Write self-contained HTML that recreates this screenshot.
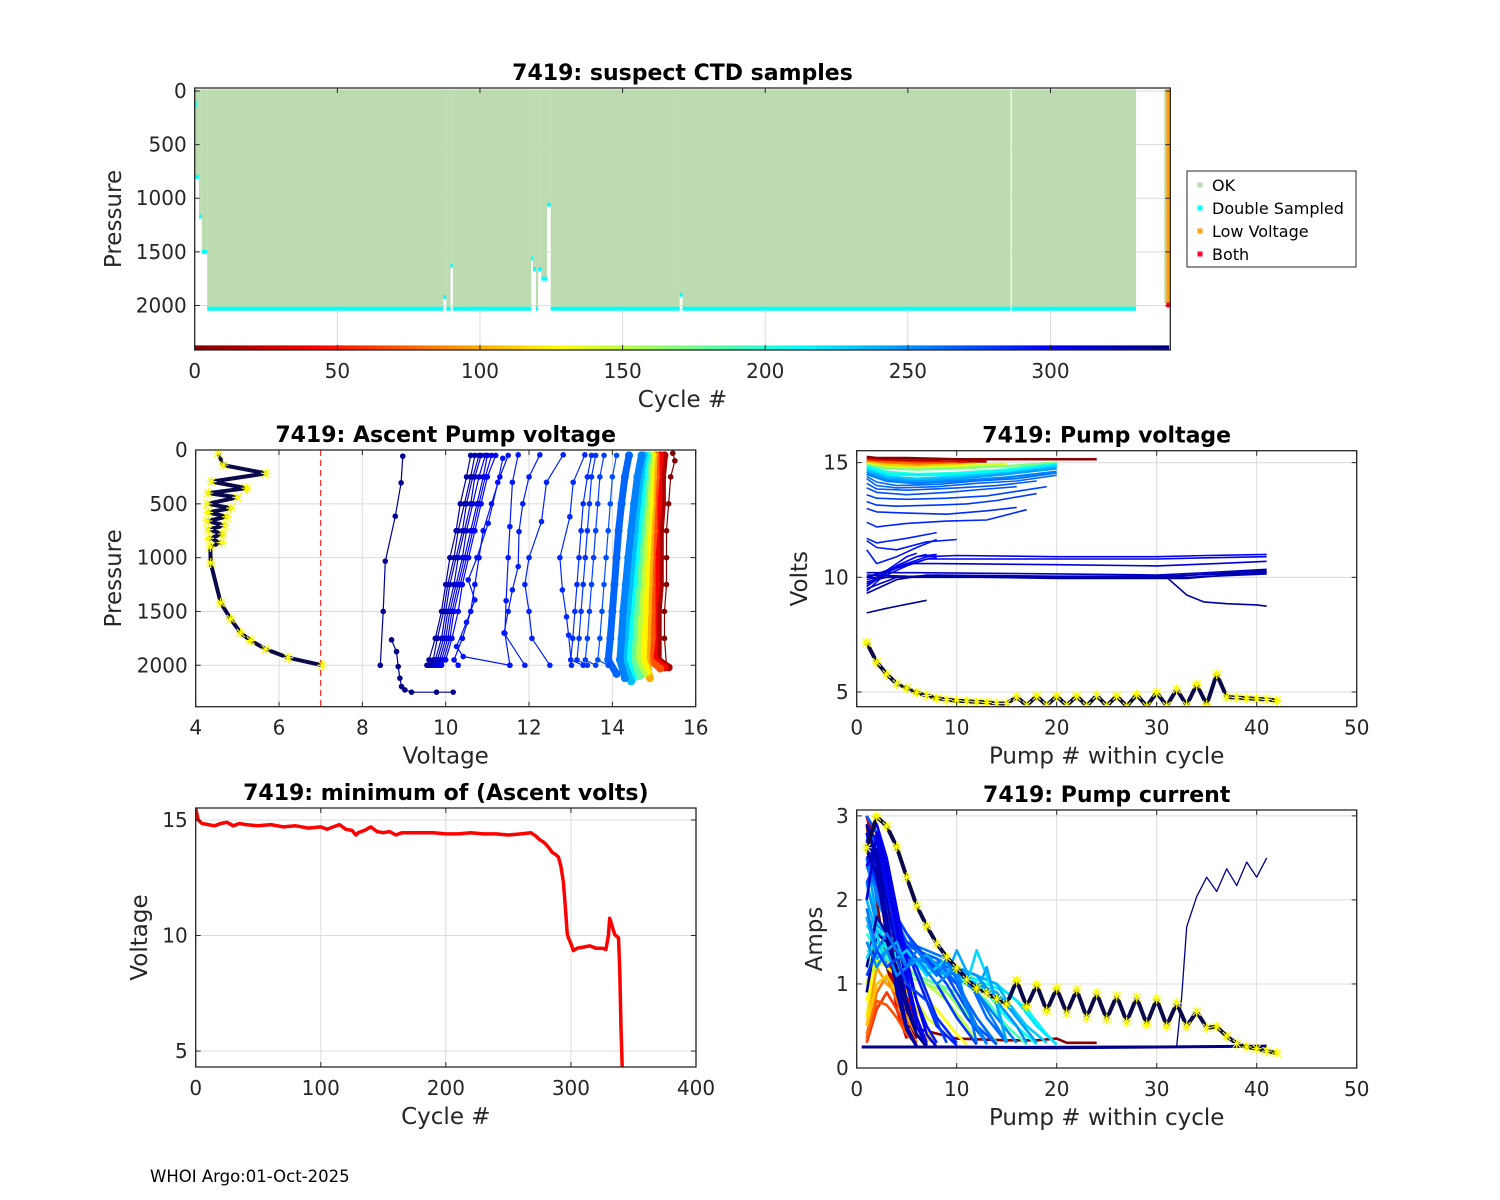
<!DOCTYPE html>
<html><head><meta charset="utf-8">
<style>
body{margin:0;background:#fff}
svg{display:block;font-family:"DejaVu Sans","Liberation Sans",sans-serif}
</style></head>
<body>
<svg id="fig" width="1500" height="1200" viewBox="0 0 1500 1200">
<rect width="1500" height="1200" fill="#fff"/>
<text x="150" y="1182" font-size="16.5" fill="#000">WHOI Argo:01-Oct-2025</text>
</svg>
<script>
// ---------- DATA: top panel (suspect CTD samples) ----------
const segStart=[-0.5,1.5,2.5,4.4,87.2,88.2,89.7,90.5,118,118.6,119.6,120.4,121.5,123.5,124.8,170,171,286.4];
const segEnd  =[1.5,2.5,4.4,87.2,88.2,89.7,90.5,118,118.6,119.6,120.4,121.5,123.5,124.8,170,171,286,330];
const segMaxP =[800,1170,1500,2030,1920,2030,1630,2030,1560,1660,2030,1660,1750,1060,2030,1900,2030,2030];
const lastCycles=[340.4,341.3];
const lastMaxP=[1980,2000];

// ---------- DATA: minimum ascent volts ----------
const mvCycle=[0,2,5,10,15,20,25,30,35,40,50,60,70,80,90,100,105,110,115,120,125,128,130,135,140,145,150,155,160,165,170,180,190,200,210,220,230,240,250,260,268,272,275,278,280,283,285,288,290,292,294,295,296,297,298,300,302,305,310,315,320,325,328,330,331,333,335,338,339,340,341];
const mvVolt =[15.5,15.0,14.85,14.8,14.75,14.85,14.9,14.75,14.85,14.8,14.75,14.8,14.7,14.75,14.65,14.7,14.6,14.7,14.8,14.6,14.55,14.35,14.45,14.55,14.7,14.5,14.45,14.5,14.35,14.45,14.45,14.45,14.45,14.4,14.4,14.45,14.4,14.4,14.35,14.4,14.45,14.3,14.15,14.05,13.95,13.75,13.6,13.5,13.4,13.0,12.3,11.6,10.9,10.1,9.9,9.65,9.35,9.45,9.5,9.55,9.45,9.45,9.4,10.0,10.75,10.4,10.05,9.9,8.6,6.0,4.3];

// ---------- DATA: ascent pump voltage profiles (pressure/voltage) ----------
const apCycle=[1,15,40,70,100,125,150,180,210,235,255,265,272,277,281,283,285,287,289,290,291,293,296,300,305,310,315,320,325,329,333,338];
const apP=[
 [30,100,250,500,750,1000,1250,1500,1750,2000],
 [50,250,500,750,1000,1250,1500,1750,1950,2020],
 [50,250,500,750,1000,1250,1500,1750,1950,2020],
 [50,250,500,750,1000,1250,1500,1750,1950,2030],
 [50,250,500,750,1000,1250,1500,1750,1950,2120],
 [50,250,500,750,1000,1250,1500,1750,1950,2060],
 [50,250,500,750,1000,1250,1500,1750,1950,2080],
 [50,250,500,750,1000,1250,1500,1750,1950,2100],
 [50,250,500,750,1000,1250,1500,1750,1950,2120],
 [50,250,500,750,1000,1250,1500,1750,1950,2150],
 [50,250,500,750,1000,1250,1500,1750,1950,2120],
 [50,250,500,750,1000,1250,1500,1750,1950,2080],
 [50,250,500,750,1000,1250,1500,1750,1950,2000],
 [50,250,500,750,1000,1250,1500,1750,1950,2000],
 [50,250,500,750,1000,1250,1500,1750,1950,2000],
 [50,250,500,750,1000,1250,1500,1750,1950,2000],
 [45,300,620,1000,1300,1550,1720,2000],
 [45,300,665,1000,1250,1500,1750,2000],
 [45,250,500,758,1083,1300,1500,1700,2000],
 [45,300,712,1000,1400,1703,2000],
 [77,300,681,1000,1207,1393,1600,1826,1919,2000],
 [50,250,500,750,1000,1250,1500,1750,1950,2000],
 [50,250,500,750,1000,1250,1500,1750,1950,2000],
 [50,250,500,750,1000,1250,1500,1750,1950,2000],
 [50,250,500,750,1000,1250,1500,1750,1950,2000],
 [50,250,500,750,1000,1250,1500,1750,1950,2000],
 [50,250,500,750,1000,1250,1500,1750,1950,2000],
 [50,250,500,750,1000,1250,1500,1750,1950,2000],
 [50,250,500,750,1000,1250,1500,1750,1950,2000],
 [50,250,500,750,1000,1250,1500,1750,1950,2000],
 [57,305,615,1033,1500,2000],
 [1764,1873,2012,2120,2198,2229,2250,2250,2250]
];
const apV=[
 [15.45,15.5,15.4,15.35,15.3,15.3,15.3,15.25,15.25,15.3],
 [15.25,15.2,15.2,15.15,15.15,15.15,15.1,15.1,15.1,15.35],
 [15.15,15.1,15.1,15.05,15.05,15.05,15.0,15.0,15.0,15.25],
 [15.05,15.05,15.0,15.0,14.95,14.95,14.95,14.95,14.9,15.15],
 [15.0,14.98,14.95,14.92,14.9,14.88,14.86,14.84,14.82,14.9],
 [14.95,14.92,14.9,14.86,14.83,14.8,14.78,14.76,14.74,14.85],
 [14.9,14.86,14.82,14.78,14.74,14.7,14.66,14.62,14.6,14.75],
 [14.85,14.8,14.75,14.7,14.65,14.6,14.55,14.5,14.48,14.65],
 [14.8,14.74,14.68,14.62,14.56,14.5,14.44,14.4,14.36,14.5],
 [14.75,14.68,14.6,14.54,14.48,14.42,14.36,14.3,14.26,14.45],
 [14.7,14.6,14.52,14.45,14.38,14.32,14.26,14.22,14.18,14.3],
 [14.4,14.3,14.22,14.15,14.1,14.05,14.0,13.95,13.9,14.1],
 [14.1,14.0,13.95,13.9,13.85,13.8,13.75,13.7,13.65,13.9],
 [13.8,13.7,13.65,13.6,13.55,13.5,13.45,13.4,13.35,13.6],
 [13.6,13.5,13.45,13.4,13.35,13.3,13.25,13.2,13.15,13.4],
 [13.5,13.4,13.3,13.25,13.2,13.15,13.1,13.05,13.0,13.3],
 [13.34,13.06,12.98,12.74,12.8,12.9,12.95,13.02],
 [12.82,12.42,12.3,12.0,11.9,12.0,12.07,12.5],
 [12.26,12.0,11.85,11.76,11.74,11.6,11.5,11.4,11.9],
 [11.74,11.6,11.54,11.5,11.45,11.42,11.54],
 [11.37,11.25,11.02,10.75,10.54,10.7,10.5,10.26,10.42,11.54],
 [11.5,11.3,11.1,10.9,10.8,10.7,10.6,10.4,10.2,10.3],
 [11.2,11.0,10.85,10.7,10.55,10.4,10.3,10.15,10.0,9.9],
 [11.1,10.95,10.8,10.65,10.5,10.35,10.2,10.1,9.95,9.85],
 [11.0,10.9,10.75,10.6,10.45,10.3,10.15,10.05,9.9,9.8],
 [10.95,10.8,10.65,10.5,10.4,10.25,10.1,10.0,9.85,9.75],
 [10.85,10.7,10.6,10.45,10.3,10.2,10.05,9.95,9.8,9.7],
 [10.8,10.65,10.5,10.4,10.25,10.1,10.0,9.9,9.75,9.65],
 [10.7,10.6,10.45,10.3,10.2,10.05,9.95,9.8,9.7,9.6],
 [10.6,10.5,10.35,10.25,10.1,10.0,9.9,9.75,9.6,9.55],
 [8.97,8.93,8.79,8.55,8.5,8.43],
 [8.7,8.82,8.86,8.9,8.94,9.02,9.18,9.78,10.18]
];
const apHiP=[30,140,217,294,355,400,440,500,540,580,620,660,700,740,780,820,860,900,1050,1420,1570,1700,1770,1850,1930,2000];
const apHiV=[4.54,4.66,5.69,4.38,5.22,4.3,5.0,4.28,4.85,4.3,4.75,4.28,4.7,4.3,4.65,4.32,4.62,4.35,4.36,4.6,4.84,5.08,5.32,5.68,6.22,7.04];
const voltThreshold=7;

// ---------- DATA: pump voltage vs pump # ----------
const pvCycle=[3,20,50,80,110,140,170,200,215,230,245,255,262,265,270,272,276,280,284,286,288,290,292,294,296,297,298,300,305,310,315,318,320,325,328,330,333];
const pvN=[
 [1,2,5,10,15,20,24],
 [1,3,6,9,13],
 [1,3,6,11],
 [1,3,6,10],
 [1,3,6,9,12],
 [1,3,6,10,15],
 [1,3,6,10,15,20],
 [1,3,6,10,15,20],
 [1,3,6,10,15,20],
 [1,3,6,10,15,20],
 [1,3,6,10,15,20],
 [1,3,6,10,15,20],
 [1,2,4,8,12,16,20],
 [1,2,4,8,12,16,20],
 [1,2,5,10,14,18],
 [1,2,5,9,13,16],
 [1,2,5,9,13,16,19],
 [1,2,4,8,11,14,18],
 [1,2,5,9,13,16],
 [1,2,5,9,13,17],
 [1,2,5,8],
 [1,2,4,7,10],
 [1,2,4,6,8],
 [1,2,3,4,6,7],
 [1,2,3,4,5,6],
 [1,2,4,6,8],
 [1,3,5,7,8],
 [1,3,5,7,10,20,30,35,41],
 [1,4,7,10,20,30,35,41],
 [1,5,8,20,30,36,41],
 [1,6,20,30,35,41],
 [1,4,8,20,30,41],
 [1,5,20,33,41],
 [1,3,6,20,33,41],
 [1,4,7,20,30,41],
 [1,4,7,31,33,34.7,37,40,41],
 [1,3,7]
];
const pvV=[
 [15.25,15.2,15.2,15.15,15.15,15.15,15.15],
 [15.15,15.1,15.1,15.05,15.05],
 [15.1,15.05,15.0,15.0],
 [15.05,15.0,14.95,14.95],
 [15.0,14.9,14.85,14.9,14.95],
 [14.95,14.8,14.75,14.85,14.95],
 [14.9,14.75,14.7,14.75,14.85,15.0],
 [14.85,14.6,14.5,14.55,14.7,14.95],
 [14.8,14.5,14.45,14.5,14.65,14.9],
 [14.7,14.4,14.3,14.4,14.55,14.85],
 [14.6,14.3,14.2,14.3,14.5,14.75],
 [14.5,14.2,14.1,14.2,14.35,14.6],
 [14.4,14.15,14.0,14.05,14.2,14.3,14.55],
 [14.3,14.0,13.9,13.95,14.1,14.2,14.45],
 [14.1,13.85,13.8,13.9,14.0,14.2],
 [13.9,13.7,13.6,13.7,13.85,13.95],
 [13.6,13.45,13.4,13.45,13.55,13.75,13.95],
 [13.3,13.15,13.1,13.15,13.2,13.35,13.65],
 [13.0,12.85,12.8,12.75,12.9,13.05],
 [12.4,12.2,12.35,12.45,12.5,12.95],
 [11.7,11.5,11.7,11.95],
 [11.6,11.3,11.2,11.55,11.65],
 [11.2,10.6,10.9,11.3,11.65],
 [9.4,9.8,10.2,10.5,10.9,11.0],
 [9.6,10.0,10.3,10.6,10.9,11.05],
 [9.7,10.0,10.5,10.9,11.0],
 [9.9,10.1,10.5,10.8,10.85],
 [9.6,10.2,10.6,10.9,10.95,10.9,10.9,10.95,11.0],
 [10.0,10.4,10.8,10.8,10.8,10.8,10.85,10.9],
 [10.0,10.6,10.6,10.55,10.5,10.6,10.7],
 [10.2,10.2,10.15,10.1,10.2,10.35],
 [9.5,10.0,10.1,10.05,10.05,10.2],
 [10.1,10.05,10.0,10.0,10.15],
 [9.8,10.0,10.05,9.95,9.95,10.25],
 [9.3,9.9,10.1,10.0,10.0,10.3],
 [10.0,10.0,10.0,10.0,9.23,8.93,8.85,8.8,8.74],
 [8.45,8.65,9.0]
];
const pvHiN=[1,2,3,4,5,6,7,8,9,10,11,12,13,14,15,16,17,18,19,20,21,22,23,24,25,26,27,28,29,30,31,32,33,34,35,36,37,38,39,40,41,42];
const pvHiV=[7.15,6.3,5.78,5.36,5.17,4.97,4.85,4.73,4.67,4.62,4.6,4.57,4.55,4.5,4.5,4.78,4.42,4.82,4.42,4.82,4.42,4.82,4.4,4.85,4.4,4.82,4.38,4.88,4.38,4.97,4.4,5.12,4.42,5.33,4.44,5.78,4.78,4.76,4.73,4.7,4.68,4.63];

// ---------- DATA: pump current vs pump # ----------
const pcCycle=[2,3,10,25,40,60,70,80,95,110,120,130,140,150,160,170,180,190,200,208,215,222,230,238,245,250,255,258,262,265,268,272,275,280,285,288,292,296,300,305,310,315,320,325,328,332,335,336,337,226,242,252,260,278];
const pcN=[
 [1,2,3,4,5,6],[1,2,3,5,10,15,18,20,21,24],[1,2,3,4,5,6],[1,2,3,4,5],[1,2,3,4,5,6,7],
 [1,2,3,4,5,6],[1,2,3,4,5,6],[1,2,3,4,5,6],[1,2,3,4,5,6,7],[1,2,3,4,5,6,7,8],
 [1,2,3,4,5,6,7,8],[1,2,4,6,8,10,11],[1,2,3,4,5,6,7,8,9,10],[1,3,5,7,9,11,12],[1,3,5,7,9,11,13],
 [1,2,4,6,8,10,12,14],[1,2,4,6,8,10,12,14],[1,3,5,7,9,11,13,15,17],[1,2,4,6,8,10,12,14,16],[1,3,5,7,9,11,13,15,18],
 [1,3,5,7,9,11,13,15,17,19,20],[1,2,4,6,8,10,12,14,16,18,20],[1,3,5,7,9,11,13,15,17,19],[1,2,4,6,8,10,12,14,16,18],[1,2,4,6,8,10,12,14,16,18],
 [1,2,4,6,8,10,12,14,16,17],[1,2,4,6,8,10,12,14,16],[1,2,3,5,7,9,11,13,15],[1,2,3,5,7,9,11,13,15],[1,2,3,4,6,8,10,12,14],
 [1,2,3,4,6,8,10,12,14],[1,2,3,5,7,9,11,13],[1,2,3,5,7,9,11,13],[1,2,3,4,6,8,10,12],[1,2,3,4,6,8,10],
 [1,2,3,4,5,6,8,10],[1,2,3,4,5,6,7,8],[1,2,3,4,5,6,7],[1,2,3,4,5,6,7,8],[1,2,3,4,5,6,7],
 [1,2,3,4,5,6,7],[1,2,3,4,5,6],[1,2,3,4,5,6,7],[1,2,3,4,5,6],[1,2,3,4,5,6],
 [1,2,3,4,5,6,7],[1,2,3,4,5,6,7],[0.5,10,20,30,41],[1,32,32.5,33,34,35,36,37,38,39,40,41],
 [1,2,3,5,7,9,11,12,14,15],[1,2,4,5,7,9,10,12,13,15],[1,2,3,4,6,8,10,11,13],[1,2,3,5,6,8,9,11,12],[1,2,3,4,5,7,9]
];
const pcA=[
 [3.0,2.6,1.8,1.0,0.5,0.3],[2.9,2.0,1.2,0.5,0.35,0.33,0.33,0.35,0.3,0.3],[2.9,2.8,2.0,1.2,0.6,0.35],[3.0,2.5,1.5,0.7,0.35],[2.8,2.7,2.2,1.5,0.9,0.5,0.3],
 [0.3,0.7,0.9,0.7,0.45,0.3],[0.35,0.8,0.75,0.6,0.4,0.28],[0.4,0.9,1.1,0.8,0.5,0.3],[0.5,1.2,1.0,0.9,0.6,0.4,0.3],[0.5,1.0,1.1,0.9,0.7,0.5,0.35,0.28],
 [0.6,1.5,1.2,1.1,0.9,0.7,0.45,0.3],[0.8,1.3,1.1,0.9,0.7,0.4,0.28],[1.0,1.4,1.3,1.2,1.0,0.8,0.6,0.5,0.4,0.3],[1.1,1.3,1.2,1.0,0.8,0.5,0.3],[1.2,1.3,1.1,1.0,0.9,0.6,0.3],
 [1.2,1.4,1.2,1.1,1.0,0.8,0.5,0.3],[1.3,1.5,1.2,1.1,1.0,0.9,0.6,0.3],[1.4,1.3,1.25,1.2,1.1,1.0,0.8,0.5,0.28],[1.6,1.4,1.2,1.3,1.1,1.2,0.9,0.6,0.3],[1.5,1.35,1.3,1.25,1.2,1.1,0.9,0.6,0.28],
 [2.2,1.4,1.3,1.2,1.15,1.1,1.0,0.9,0.7,0.4,0.28],[1.7,1.5,1.35,1.3,1.25,1.2,1.1,1.0,0.8,0.5,0.28],[1.8,1.5,1.3,1.2,1.1,1.0,0.9,0.8,0.5,0.3],[2.0,1.6,1.4,1.3,1.25,1.2,1.1,1.0,0.6,0.3],[2.5,1.8,1.4,1.3,1.2,1.1,1.0,0.9,0.6,0.3],
 [2.2,1.7,1.5,1.4,1.3,1.2,1.1,0.8,0.5,0.3],[2.8,2.0,1.5,1.3,1.2,1.1,0.9,0.6,0.3],[2.4,2.1,1.7,1.5,1.4,1.3,1.1,0.7,0.3],[2.9,2.6,2.0,1.5,1.3,1.2,1.1,0.6,0.3],[2.6,2.3,1.9,1.6,1.4,1.3,1.0,0.6,0.28],
 [3.0,2.8,2.4,1.8,1.4,1.2,1.0,0.5,0.28],[2.5,2.2,1.9,1.5,1.3,1.1,0.7,0.3],[2.2,2.5,2.0,1.6,1.3,1.0,0.6,0.3],[2.7,2.3,1.9,1.6,1.3,1.0,0.6,0.28],[2.6,2.2,1.8,1.5,1.2,0.6,0.3],
 [2.8,2.5,2.1,1.7,1.4,1.1,0.5,0.27],[2.9,2.7,2.3,1.8,1.2,0.8,0.5,0.3],[2.6,2.6,2.2,1.6,1.0,0.6,0.3],[2.7,2.9,2.5,1.9,1.3,0.8,0.4,0.25],[2.4,2.7,2.3,1.7,1.1,0.6,0.27],
 [2.0,2.8,2.4,1.7,1.0,0.5,0.25],[2.8,2.4,1.7,1.0,0.5,0.26],[2.5,2.6,2.0,1.4,0.8,0.4,0.25],[2.9,2.5,1.8,1.1,0.5,0.25],[2.6,2.3,1.6,0.9,0.45,0.25],
 [1.2,1.8,1.6,1.1,0.7,0.4,0.25],[0.9,1.6,1.5,1.2,0.8,0.4,0.25],[0.25,0.25,0.24,0.25,0.26],[0.25,0.26,0.85,1.68,2.04,2.27,2.1,2.37,2.17,2.45,2.27,2.5],
 [1.3,1.6,1.2,1.4,1.1,1.3,1.0,1.4,0.8,0.3],[1.8,1.3,1.5,1.2,1.35,1.1,1.4,0.9,1.2,0.3],[1.5,1.2,1.4,1.1,1.3,1.0,1.2,0.7,0.28],[1.9,1.4,1.6,1.2,1.4,1.1,1.3,0.8,0.3],[1.1,1.4,1.2,1.3,1.0,0.8,0.3]
];
const pcHiN=[1,2,3,4,5,6,7,8,9,10,11,12,13,14,15,16,17,18,19,20,21,22,23,24,25,26,27,28,29,30,31,32,33,34,35,36,37,38,39,40,41,42];
const pcHiA=[2.62,2.99,2.88,2.63,2.27,1.93,1.69,1.48,1.32,1.19,1.05,0.95,0.89,0.82,0.76,1.04,0.73,0.99,0.68,0.95,0.65,0.93,0.6,0.89,0.58,0.86,0.55,0.84,0.52,0.82,0.5,0.77,0.5,0.67,0.48,0.49,0.38,0.29,0.25,0.23,0.2,0.18];

// ---------- rendering ----------
const NS='http://www.w3.org/2000/svg';
const fig=document.getElementById('fig');
const footer=fig.lastElementChild;
function mk(tag,parent){const e=document.createElementNS(NS,tag);parent.appendChild(e);return e;}
function jet(cyc){
  const t=1-Math.max(0,Math.min(1,cyc/341));
  const cl=v=>Math.max(0,Math.min(1,v));
  const r=cl(1.5-Math.abs(4*t-3)),g=cl(1.5-Math.abs(4*t-2)),b=cl(1.5-Math.abs(4*t-1));
  return 'rgb('+Math.round(r*255)+','+Math.round(g*255)+','+Math.round(b*255)+')';
}
let clipId=0;
function axes(c){
  const g=mk('g',fig);
  
  
  const sx=v=>c.px0+(v-c.xmin)/(c.xmax-c.xmin)*(c.px1-c.px0);
  const sy=c.yrev?(v=>c.py0+(v-c.ymin)/(c.ymax-c.ymin)*(c.py1-c.py0)):(v=>c.py1-(v-c.ymin)/(c.ymax-c.ymin)*(c.py1-c.py0));
  c.xticks.forEach(t=>{const l=mk('line',g);l.setAttribute('x1',sx(t));l.setAttribute('x2',sx(t));l.setAttribute('y1',c.py0);l.setAttribute('y2',c.py1);l.setAttribute('stroke','#dcdcdc');
    
    });
  c.yticks.forEach(t=>{const l=mk('line',g);l.setAttribute('y1',sy(t));l.setAttribute('y2',sy(t));l.setAttribute('x1',c.px0);l.setAttribute('x2',c.px1);l.setAttribute('stroke','#dcdcdc');
    
    });
  const cid='clip'+(clipId++);
  const cp=mk('clipPath',g);cp.setAttribute('id',cid);
  const cr=mk('rect',cp);cr.setAttribute('x',c.px0);cr.setAttribute('y',c.py0);cr.setAttribute('width',c.px1-c.px0);cr.setAttribute('height',c.py1-c.py0);
  const plot=mk('g',g);plot.setAttribute('clip-path','url(#'+cid+')');
  
  
  const over=mk('g',g);
  function finish(){
    const f=mk('rect',over);f.setAttribute('x',c.px0);f.setAttribute('y',c.py0);f.setAttribute('width',c.px1-c.px0);f.setAttribute('height',c.py1-c.py0);f.setAttribute('fill','none');f.setAttribute('stroke','#262626');f.setAttribute('stroke-width','1.3');
    
    
    c.xticks.forEach((t,i)=>{
      [[c.py1,c.py1-5],[c.py0,c.py0+5]].forEach(p=>{const l=mk('line',over);l.setAttribute('x1',sx(t));l.setAttribute('x2',sx(t));l.setAttribute('y1',p[0]);l.setAttribute('y2',p[1]);l.setAttribute('stroke','#262626');
        
        });
      const tx=mk('text',over);tx.setAttribute('x',sx(t));tx.setAttribute('y',c.py1+28);tx.setAttribute('text-anchor','middle');tx.setAttribute('font-size','20');tx.setAttribute('fill','#262626');tx.textContent=c.xlabs[i];
      
      
    });
    c.yticks.forEach((t,i)=>{
      [[c.px0,c.px0+5],[c.px1,c.px1-5]].forEach(p=>{const l=mk('line',over);l.setAttribute('y1',sy(t));l.setAttribute('y2',sy(t));l.setAttribute('x1',p[0]);l.setAttribute('x2',p[1]);l.setAttribute('stroke','#262626');
        
        });
      const tx=mk('text',over);tx.setAttribute('x',c.px0-8);tx.setAttribute('y',sy(t)+7);tx.setAttribute('text-anchor','end');tx.setAttribute('font-size','20');tx.setAttribute('fill','#262626');tx.textContent=c.ylabs[i];
      
      
    });
    const ti=mk('text',over);ti.setAttribute('x',(c.px0+c.px1)/2);ti.setAttribute('y',c.py0-8);ti.setAttribute('text-anchor','middle');ti.setAttribute('font-size','22');ti.setAttribute('font-weight','bold');ti.setAttribute('fill','#000');ti.textContent=c.title;
    
    
    const xl=mk('text',over);xl.setAttribute('x',(c.px0+c.px1)/2);xl.setAttribute('y',c.py1+57);xl.setAttribute('text-anchor','middle');xl.setAttribute('font-size','23');xl.setAttribute('fill','#262626');xl.textContent=c.xlabel;
    
    
    const yl=mk('text',over);const cy=(c.py0+c.py1)/2;yl.setAttribute('x',c.ylx);yl.setAttribute('y',cy);yl.setAttribute('transform','rotate(-90 '+c.ylx+' '+cy+')');yl.setAttribute('text-anchor','middle');yl.setAttribute('dominant-baseline','central');yl.setAttribute('font-size','23');yl.setAttribute('fill','#262626');yl.textContent=c.ylabel;
    
    
  }
  return {g,plot,sx,sy,finish};
}
function poly(parent,xs,ys,sx,sy,color,w){
  const p=mk('polyline',parent);
  p.setAttribute('points',xs.map((x,i)=>sx(x).toFixed(1)+','+sy(ys[i]).toFixed(1)).join(' '));
  p.setAttribute('fill','none');p.setAttribute('stroke',color);p.setAttribute('stroke-width',w);p.setAttribute('stroke-linejoin','round');
  return p;
}
function star(parent,x,y){
  const g=mk('g',parent);
  [[-5,0,5,0],[0,-5,0,5],[-4,-4,4,4],[-4,4,4,-4]].forEach(d=>{const l=mk('line',g);l.setAttribute('x1',x+d[0]);l.setAttribute('y1',y+d[1]);l.setAttribute('x2',x+d[2]);l.setAttribute('y2',y+d[3]);l.setAttribute('stroke','#ffff00');l.setAttribute('stroke-width','1.2');});
  return g;
}

// ===== Panel 1 =====
const A1=axes({name:'suspect-ctd-chart',px0:194.7,px1:1170.3,py0:88,py1:350,xmin:0,xmax:342,ymin:-28,ymax:2415,yrev:true,
  xticks:[0,50,100,150,200,250,300],xlabs:['0','50','100','150','200','250','300'],
  yticks:[0,500,1000,1500,2000],ylabs:['0','500','1000','1500','2000'],
  title:'7419: suspect CTD samples',xlabel:'Cycle #',ylabel:'Pressure',ylx:114});
segStart.forEach((s,i)=>{
  const r=mk('rect',A1.plot);
  r.setAttribute('x',A1.sx(s));r.setAttribute('width',A1.sx(segEnd[i])-A1.sx(s));
  r.setAttribute('y',A1.sy(-15));r.setAttribute('height',A1.sy(segMaxP[i])-A1.sy(-15));
  r.setAttribute('fill','#bcdbb0');
  
  
  const cy=mk('rect',A1.plot);
  cy.setAttribute('x',A1.sx(s));cy.setAttribute('width',A1.sx(segEnd[i])-A1.sx(s));
  cy.setAttribute('y',A1.sy(segMaxP[i])-2);cy.setAttribute('height',4);
  cy.setAttribute('fill','#00ffff');
  
  
});
{
  const g1=mk('rect',A1.plot);g1.setAttribute('x',A1.sx(lastCycles[0])-1.5);g1.setAttribute('width',3);g1.setAttribute('y',A1.sy(-15));g1.setAttribute('height',A1.sy(lastMaxP[0])-A1.sy(-15));g1.setAttribute('fill','#bcdbb0');
  
  
  const o1=mk('rect',A1.plot);o1.setAttribute('x',A1.sx(lastCycles[1])-2);o1.setAttribute('width',4);o1.setAttribute('y',A1.sy(-15));o1.setAttribute('height',A1.sy(lastMaxP[1])-A1.sy(-15));o1.setAttribute('fill','#ffa015');
  
  
  const b1=mk('rect',A1.plot);b1.setAttribute('x',A1.sx(lastCycles[1])-2);b1.setAttribute('width',4);b1.setAttribute('y',A1.sy(lastMaxP[1])-3);b1.setAttribute('height',5);b1.setAttribute('fill','#ff0030');
  
  
  const c0=mk('rect',A1.plot);c0.setAttribute('x',A1.sx(0)-2);c0.setAttribute('width',4);c0.setAttribute('y',A1.sy(120)-3);c0.setAttribute('height',6);c0.setAttribute('fill','#00ffff');
  
  
}
for(let cyc=0;cyc<=341;cyc++){
  const r=mk('rect',A1.plot);
  r.setAttribute('x',A1.sx(cyc)-1.5);r.setAttribute('width',3.2);r.setAttribute('y',A1.sy(2400)-3);r.setAttribute('height',6);r.setAttribute('fill',jet(cyc));
  
  
}
A1.finish();
{
  const lg=mk('g',fig);
  
  
  const bx=mk('rect',lg);bx.setAttribute('x',1187);bx.setAttribute('y',171);bx.setAttribute('width',169);bx.setAttribute('height',96);bx.setAttribute('fill','#fff');bx.setAttribute('stroke','#262626');
  
  
  const labs=['OK','Double Sampled','Low Voltage','Both'];
  const cols=['#bcdbb0','#00ffff','#ffa015','#ff0030'];
  labs.forEach((l,i)=>{
    const y=185+i*23;
    const m=mk('rect',lg);m.setAttribute('x',1197.5);m.setAttribute('y',y-2.5);m.setAttribute('width',5);m.setAttribute('height',5);m.setAttribute('fill',cols[i]);
    
    
    const t=mk('text',lg);t.setAttribute('x',1212);t.setAttribute('y',y+6);t.setAttribute('font-size','16');t.setAttribute('fill','#000');t.textContent=l;
    
    
  });
}

// ===== Panel 2 =====
const A2=axes({name:'ascent-pump-voltage-chart',px0:195.7,px1:695.7,py0:450,py1:706.7,xmin:4,xmax:16,ymin:0,ymax:2385,yrev:true,
  xticks:[4,6,8,10,12,14,16],xlabs:['4','6','8','10','12','14','16'],
  yticks:[0,500,1000,1500,2000],ylabs:['0','500','1000','1500','2000'],
  title:'7419: Ascent Pump voltage',xlabel:'Voltage',ylabel:'Pressure',ylx:114});
apCycle.forEach((cyc,i)=>{
  const col=jet(cyc);
  const band=(cyc>=15&&cyc<=265);
  const p=poly(A2.plot,apV[i],apP[i],A2.sx,A2.sy,col,band?7:1.2);
  
  
  apV[i].forEach((v,j)=>{
    const c=mk('circle',A2.plot);c.setAttribute('cx',A2.sx(v));c.setAttribute('cy',A2.sy(apP[i][j]));c.setAttribute('r',band?4:2.8);c.setAttribute('fill',col);
    
    
  });
});
{
  const d=mk('line',A2.plot);d.setAttribute('x1',A2.sx(voltThreshold));d.setAttribute('x2',A2.sx(voltThreshold));d.setAttribute('y1',450);d.setAttribute('y2',707);d.setAttribute('stroke','#ff0000');d.setAttribute('stroke-dasharray','6,4');d.setAttribute('stroke-width','1');
  
  
  const h=poly(A2.plot,apHiV,apHiP,A2.sx,A2.sy,'#0a0a4a',4);
  
  
  apHiV.forEach((v,j)=>{const s=star(A2.plot,A2.sx(v),A2.sy(apHiP[j]));
    
    });
}
A2.finish();

// ===== Panel 3 =====
const A3=axes({name:'pump-voltage-chart',px0:856.7,px1:1356.7,py0:450.7,py1:706.7,xmin:0,xmax:50,ymin:4.36,ymax:15.52,yrev:false,
  xticks:[0,10,20,30,40,50],xlabs:['0','10','20','30','40','50'],
  yticks:[5,10,15],ylabs:['5','10','15'],
  title:'7419: Pump voltage',xlabel:'Pump # within cycle',ylabel:'Volts',ylx:800});
pvCycle.forEach((cyc,i)=>{
  const p=poly(A3.plot,pvN[i],pvV[i],A3.sx,A3.sy,jet(cyc),cyc<=260?2.5:1.6);
  
  
});
{
  const h=poly(A3.plot,pvHiN,pvHiV,A3.sx,A3.sy,'#0a0a4a',4);
  
  
  pvHiN.forEach((n,j)=>{const s=star(A3.plot,A3.sx(n),A3.sy(pvHiV[j]));
    
    });
}
A3.finish();

// ===== Panel 4 =====
const A4=axes({name:'minimum-ascent-volts-chart',px0:195.7,px1:696,py0:808,py1:1067,xmin:0,xmax:400,ymin:4.31,ymax:15.52,yrev:false,
  xticks:[0,100,200,300,400],xlabs:['0','100','200','300','400'],
  yticks:[5,10,15],ylabs:['5','10','15'],
  title:'7419: minimum of (Ascent volts)',xlabel:'Cycle #',ylabel:'Voltage',ylx:140});
{
  const p=poly(A4.plot,mvCycle,mvVolt,A4.sx,A4.sy,'#ff0000',3.5);
  
  
}
A4.finish();

// ===== Panel 5 =====
const A5=axes({name:'pump-current-chart',px0:856.7,px1:1356.7,py0:810,py1:1068,xmin:0,xmax:50,ymin:0,ymax:3.07,yrev:false,
  xticks:[0,10,20,30,40,50],xlabs:['0','10','20','30','40','50'],
  yticks:[0,1,2,3],ylabs:['0','1','2','3'],
  title:'7419: Pump current',xlabel:'Pump # within cycle',ylabel:'Amps',ylx:815});
pcCycle.forEach((cyc,i)=>{
  const p=poly(A5.plot,pcN[i],pcA[i],A5.sx,A5.sy,jet(cyc),cyc===336?3:(cyc===337?1.3:2.6));
  
  
});
{
  const h=poly(A5.plot,pcHiN,pcHiA,A5.sx,A5.sy,'#0a0a4a',4);
  
  
  pcHiN.forEach((n,j)=>{const s=star(A5.plot,A5.sx(n),A5.sy(pcHiA[j]));
    
    });
}
A5.finish();
fig.appendChild(footer);
</script>
</body></html>
